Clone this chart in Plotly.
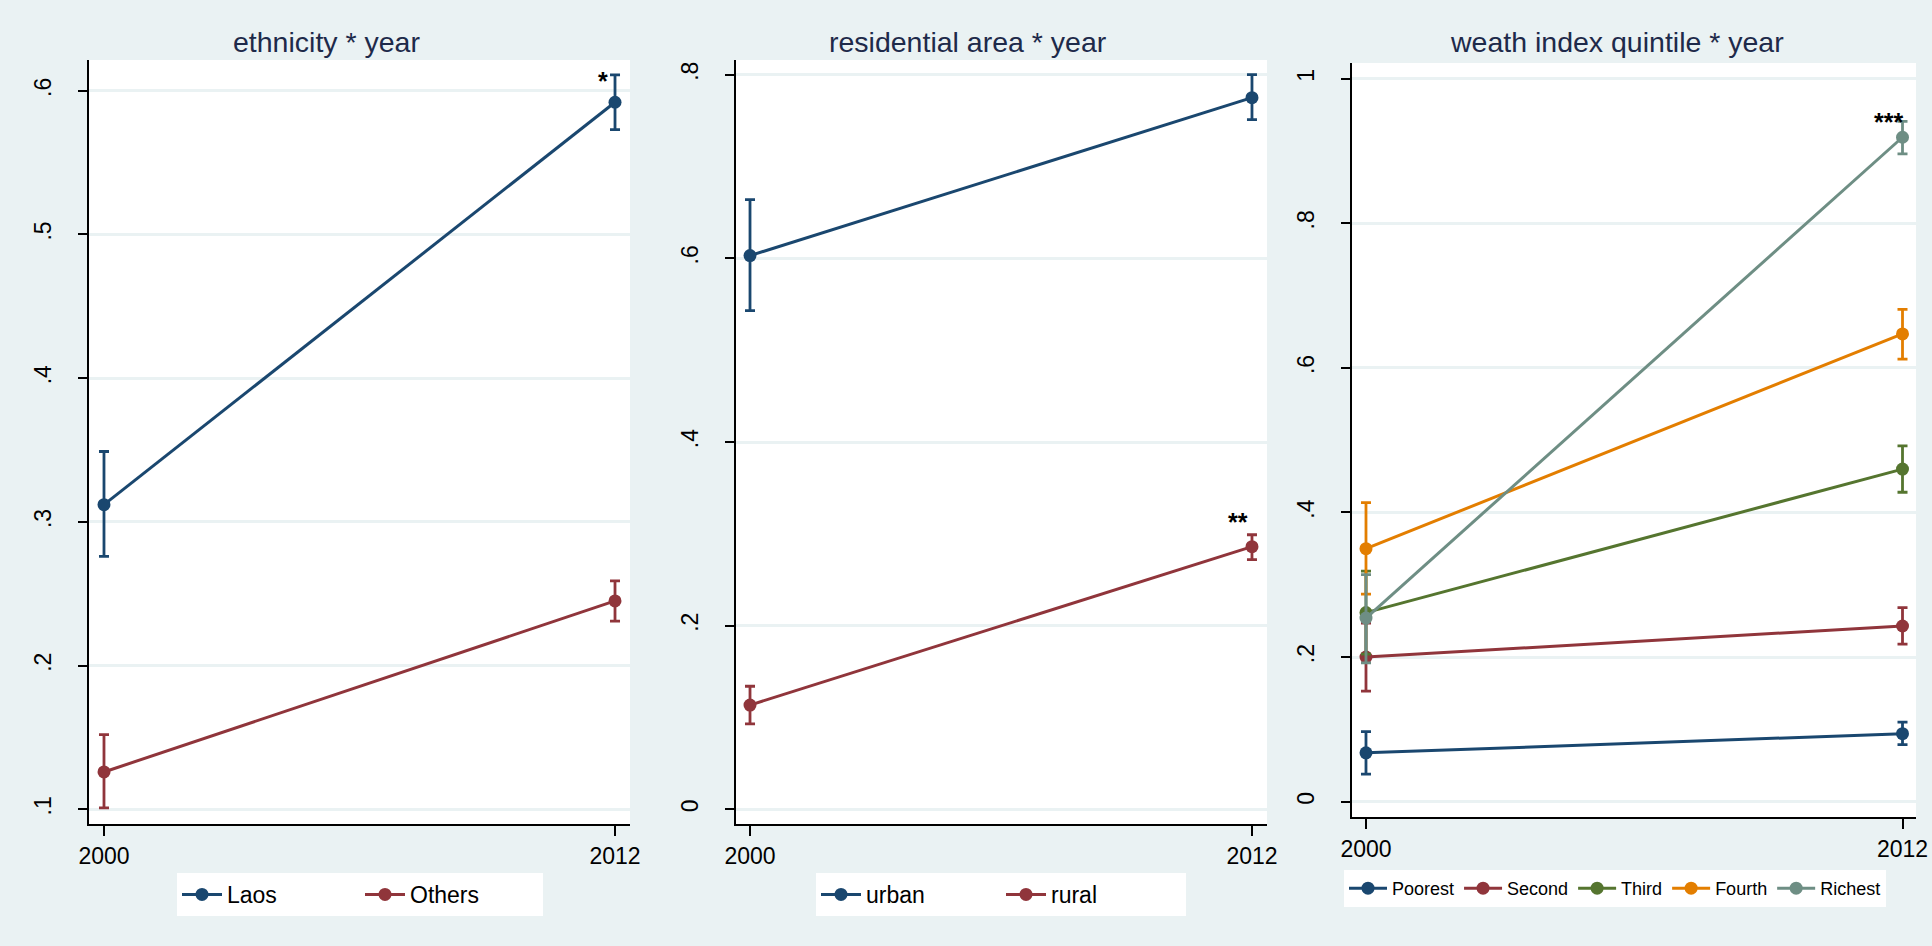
import plotly.graph_objects as go

# ---------------- data ----------------
years = [2000, 2012]

# panel 1: ethnicity * year
eth_groups = ["Laos", "Others"]
eth_mean = [[0.312, 0.592], [0.126, 0.245]]
eth_lo = [[0.276, 0.573], [0.101, 0.231]]
eth_hi = [[0.349, 0.611], [0.152, 0.259]]

# panel 2: residential area * year
res_groups = ["urban", "rural"]
res_mean = [[0.603, 0.775], [0.1135, 0.286]]
res_lo = [[0.543, 0.751], [0.093, 0.272]]
res_hi = [[0.664, 0.800], [0.134, 0.299]]

# panel 3: wealth index quintile * year
wq_groups = ["Poorest", "Second", "Third", "Fourth", "Richest"]
wq_mean = [[0.0675, 0.094], [0.200, 0.243], [0.2615, 0.460], [0.350, 0.647], [0.254, 0.919]]
wq_lo = [[0.038, 0.079], [0.153, 0.218], [0.204, 0.428], [0.287, 0.612], [0.192, 0.896]]
wq_hi = [[0.097, 0.110], [0.247, 0.2685], [0.319, 0.492], [0.4135, 0.681], [0.314, 0.941]]

titles = ["ethnicity * year", "residential area * year", "weath index quintile * year"]
y1_ticks = [0.1, 0.2, 0.3, 0.4, 0.5, 0.6]
y1_text = [".1", ".2", ".3", ".4", ".5", ".6"]
y2_ticks = [0, 0.2, 0.4, 0.6, 0.8]
y2_text = ["0", ".2", ".4", ".6", ".8"]
y3_ticks = [0, 0.2, 0.4, 0.6, 0.8, 1.0]
y3_text = ["0", ".2", ".4", ".6", ".8", "1"]
x_ticks = [2000, 2012]
x_text = ["2000", "2012"]

stars = ["*", "**", "***"]

# ---------------- style ----------------
W, H = 1932, 946
colors = ["#1a476f", "#90353b", "#55752f", "#e37e00", "#6e8e84"]
BG = "#eaf2f3"
FONT = "Liberation Sans, Arial, sans-serif"

fig = go.Figure()


def add_panel(groups, means, los, his, xa, ya, legend):
    for i, g in enumerate(groups):
        m = means[i]
        fig.add_trace(go.Scatter(
            x=years, y=m, name=g, mode="lines+markers",
            xaxis=xa, yaxis=ya, legend=legend,
            line=dict(color=colors[i], width=3),
            marker=dict(color=colors[i], size=13),
            error_y=dict(type="data", symmetric=False,
                         array=[his[i][k] - m[k] for k in range(2)],
                         arrayminus=[m[k] - los[i][k] for k in range(2)],
                         color=colors[i], thickness=2.8, width=5),
        ))


add_panel(eth_groups, eth_mean, eth_lo, eth_hi, "x", "y", "legend")
add_panel(res_groups, res_mean, res_lo, res_hi, "x2", "y2", "legend2")
add_panel(wq_groups, wq_mean, wq_lo, wq_hi, "x3", "y3", "legend3")


def px_x(a, b):
    return [a / W, b / W]


def px_y(top, bot):
    return [1 - bot / H, 1 - top / H]


xcommon = dict(showgrid=False, zeroline=False, showline=True, linecolor="black",
               linewidth=2, ticks="outside", ticklen=10, tickwidth=1.5,
               tickcolor="black", tickvals=x_ticks, ticktext=x_text, automargin=False,
               tickfont=dict(family=FONT, size=23, color="black"))
ycommon = dict(showgrid=True, gridcolor=BG, gridwidth=2.5, zeroline=False,
               showline=True, linecolor="black", linewidth=2,
               ticks="outside", ticklen=9, tickwidth=1.5, tickcolor="black",
               tickangle=-90, ticklabelstandoff=18, automargin=False,
               tickfont=dict(family=FONT, size=23, color="black"))

fig.update_layout(
    xaxis=dict(domain=px_x(89, 630), range=[1999.648, 2012.352], anchor="y", **xcommon),
    yaxis=dict(domain=px_y(60, 824), range=[0.0898, 0.6214], anchor="x",
               tickvals=y1_ticks, ticktext=y1_text, **ycommon),
    xaxis2=dict(domain=px_x(736, 1267), range=[1999.665, 2012.359], anchor="y2", **xcommon),
    yaxis2=dict(domain=px_y(60, 824), range=[-0.016, 0.816], anchor="x2",
                tickvals=y2_ticks, ticktext=y2_text, **ycommon),
    xaxis3=dict(domain=px_x(1352, 1916), range=[1999.687, 2012.302], anchor="y3", **xcommon),
    yaxis3=dict(domain=px_y(63, 817), range=[-0.0212, 1.0217], anchor="x3",
                tickvals=y3_ticks, ticktext=y3_text, **ycommon),
)

leg_common = dict(orientation="h", xanchor="center", yanchor="top",
                  bgcolor="white", borderwidth=0)
fig.update_layout(
    legend=dict(x=360 / W, y=1 - 873 / H, entrywidth=128, entrywidthmode="pixels",
                itemwidth=40,
                font=dict(family=FONT, size=23, color="black"), **leg_common),
    legend2=dict(x=1001 / W, y=1 - 873 / H, entrywidth=130, entrywidthmode="pixels",
                 itemwidth=40,
                 font=dict(family=FONT, size=23, color="black"), **leg_common),
    legend3=dict(x=1615 / W, y=1 - 870 / H, itemwidth=38,
                 font=dict(family=FONT, size=18, color="black"), **leg_common),
)

annotations = []
title_centers = [326, 968, 1617]
for t, cx in zip(titles, title_centers):
    annotations.append(dict(text=t, x=cx / W, y=1 - 42 / H, xref="paper", yref="paper",
                            xanchor="center", yanchor="middle", showarrow=False,
                            font=dict(family=FONT, size=28.5, color="#1e2a4a")))

# significance stars next to the 2012 estimates (anchored on the upper CI)
star_pos = [("x", "y", 2012, eth_hi[0][1], -12, -6),
            ("x2", "y2", 2012, res_hi[1][1], -14, 13),
            ("x3", "y3", 2012, wq_hi[4][1], -14, -1)]
for s, (xa, ya, xv, yv, dx, dy) in zip(stars, star_pos):
    annotations.append(dict(text="<b>" + s + "</b>", x=xv, y=yv, xref=xa, yref=ya,
                            xanchor="center", yanchor="middle", xshift=dx, yshift=dy,
                            showarrow=False,
                            font=dict(family=FONT, size=25, color="black")))

fig.update_layout(
    annotations=annotations,
    width=W, height=H,
    margin=dict(l=0, r=0, t=0, b=0),
    paper_bgcolor=BG, plot_bgcolor="white",
    showlegend=True,
)

fig.write_html(
    "out.html",
    config={"displayModeBar": False},
    post_script="document.body.style.margin='0';document.body.style.overflow='hidden';"
                "document.body.style.background='" + BG + "';",
)
